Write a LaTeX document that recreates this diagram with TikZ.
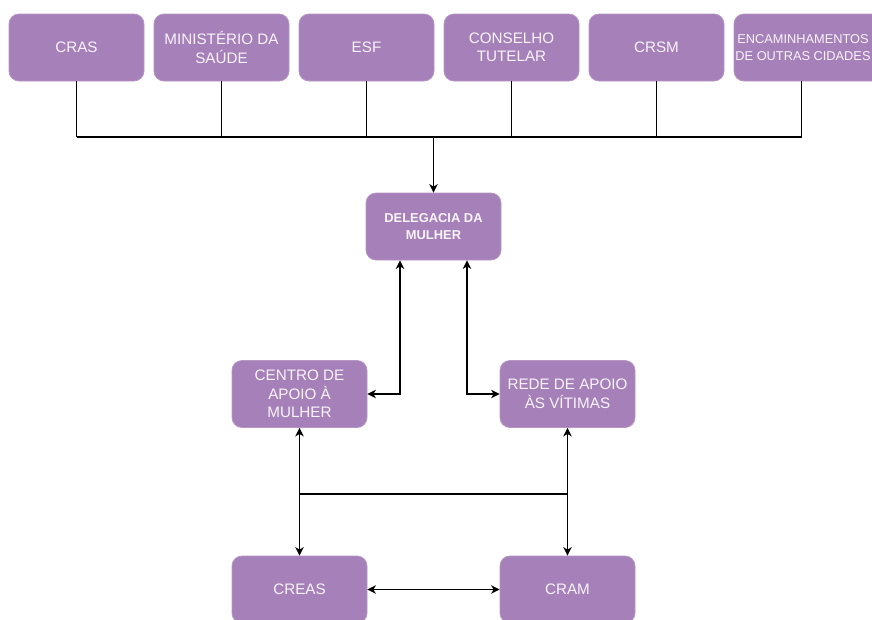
\documentclass[tikz,border=0pt]{standalone}
\usepackage{fontspec}
\setmainfont{Liberation Sans}
\usetikzlibrary{arrows.meta}
\definecolor{boxfill}{HTML}{A680B8}
\definecolor{boxline}{HTML}{B696C4}
\definecolor{boxtext}{HTML}{F8F4FA}
\tikzset{
  box/.style={draw=boxline, line width=0.8pt, fill=boxfill, rounded corners=10pt,
    minimum width=135pt, minimum height=67pt, inner sep=1pt, align=center,
    text=boxtext, font=\fontsize{15.2}{18.5}\selectfont},
  conn/.style={line width=1.2pt, black},
  tip/.style={conn, {Stealth[length=8.5pt,width=8.5pt,inset=2.5pt]}-{Stealth[length=8.5pt,width=8.5pt,inset=2.5pt]}},
  tipone/.style={conn, -{Stealth[length=8.5pt,width=8.5pt,inset=2.5pt]}}
}
\begin{document}
\begin{tikzpicture}[x=1pt,y=-1pt]
\useasboundingbox (0,0) rectangle (872,619);
\clip (0,0) rectangle (872,619);
\node[box] (cras) at (76.5,47.5) {CRAS};
\node[box] (ms) at (221.5,47.5) {MINISTÉRIO DA\\SAÚDE};
\node[box] (esf) at (366.5,47.5) {ESF};
\node[box] (ct) at (511.5,47.5) {CONSELHO\\TUTELAR};
\node[box] (crsm) at (656.5,47.5) {CRSM};
\node[box, minimum width=156pt] (enc) at (812,47.5) {};
\node[text=boxtext, align=center, inner sep=0pt, font=\fontsize{12.8}{17}\selectfont] (enctext) at (803,47.5) {ENCAMINHAMENTOS\\DE OUTRAS CIDADES};
\node[box, font=\bfseries\fontsize{12.9}{17}\selectfont] (del) at (433.5,226.5) {DELEGACIA DA\\MULHER};
\node[box] (cam) at (299.5,394) {CENTRO DE\\APOIO À\\MULHER};
\node[box] (rav) at (567.5,394) {REDE DE APOIO\\ÀS VÍTIMAS};
\node[box] (creas) at (299.5,589.5) {CREAS};
\node[box] (cram) at (567.5,589.5) {CRAM};
\coordinate (bus) at (433.5,137);
\coordinate (mid) at (433.5,494);
\coordinate (encx) at (801.5,0);
\foreach \n in {cras,ms,esf,ct,crsm}
  \draw[conn] (\n.south) -- (\n.south |- bus);
\draw[conn] (enc.south -| encx) -- (encx |- bus);
\draw[conn] (cras.south |- bus) -- (encx |- bus);
\draw[tipone] (bus) -- (del.north);
\draw[tip] ([xshift=-33.5pt]del.south) |- (cam.east);
\draw[tip] ([xshift=33.5pt]del.south) |- (rav.west);
\draw[tip] (cam.south) -- (creas.north);
\draw[tip] (rav.south) -- (cram.north);
\draw[conn] (cam.south |- mid) -- (rav.south |- mid);
\draw[tip] (creas.east) -- (cram.west);
\end{tikzpicture}
\end{document}
